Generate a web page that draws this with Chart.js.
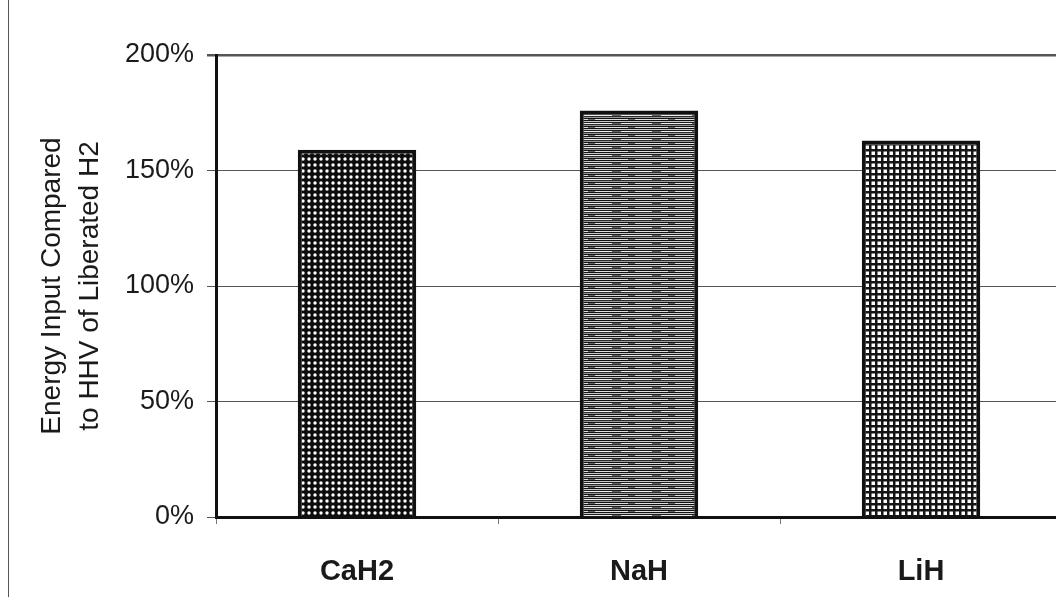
<!DOCTYPE html>
<html>
<head>
<meta charset="utf-8">
<script src="https://cdn.jsdelivr.net/npm/chart.js@4.4.0/dist/chart.umd.min.js"></script>
<style>
  html, body { margin: 0; padding: 0; background: #fff; overflow: hidden; }
  #wrap { position: relative; width: 1056px; height: 597px; overflow: hidden; }
  #edge { position: absolute; left: 8px; top: 0; width: 0; height: 597px; border-left: 1.5px solid #555; }
  canvas { position: absolute; left: 0; top: 0; }
</style>
</head>
<body>
<div id="wrap">
  <canvas id="energyChart" width="1080" height="597"></canvas>
  <div id="edge"></div>
</div>
<script>
// ── Data ─────────────────────────────────────────────────────────────────────
const hydrides    = ['CaH2', 'NaH', 'LiH'];
const energyInput = [159, 176, 163];          // % of HHV of liberated H2
const yTicks      = [0, 50, 100, 150, 200];
const yTitle      = ['Energy Input Compared', 'to HHV of Liberated H2'];

// ── Fill patterns (dots / stripes / checks) ──────────────────────────────────
function makePattern(w, h, paint) {
  const c = document.createElement('canvas');
  c.width = w; c.height = h;
  const g = c.getContext('2d');
  paint(g, w, h);
  return document.getElementById('energyChart').getContext('2d').createPattern(c, 'repeat');
}

const dotPattern = makePattern(6, 6, (g) => {
  g.fillStyle = '#0d0d0d'; g.fillRect(0, 0, 6, 6);
  g.fillStyle = '#fff';
  g.beginPath(); g.arc(3, 3, 1.7, 0, Math.PI * 2); g.fill();
});

const stripePattern = makePattern(40, 8, (g) => {
  const rows = ['#111', '#c8c8c8', '#1c1c1c', '#eeeeee', '#2a2a2a', '#9a9a9a', '#111', '#e0e0e0'];
  rows.forEach((col, i) => { g.fillStyle = col; g.fillRect(0, i, 40, 1); });
  g.fillStyle = '#666'; g.fillRect(12, 3, 9, 1); g.fillRect(28, 7, 7, 1);
});

const checkPattern = makePattern(6, 6, (g) => {
  g.fillStyle = '#151515'; g.fillRect(0, 0, 6, 6);
  g.fillStyle = '#fff'; g.fillRect(1.5, 1.5, 3.5, 3.5);
});

// ── Chart ────────────────────────────────────────────────────────────────────
const ctx = document.getElementById('energyChart').getContext('2d');
new Chart(ctx, {
  type: 'bar',
  data: {
    labels: hydrides,
    datasets: [{
      data: energyInput,
      backgroundColor: [dotPattern, stripePattern, checkPattern],
      borderColor: '#111',
      borderWidth: 4,
      barPercentage: 0.42,
      categoryPercentage: 1.0
    }]
  },
  options: {
    responsive: false,
    animation: false,
    devicePixelRatio: 1,
    layout: { padding: { top: 55, right: 18, left: 0, bottom: 0 } },
    plugins: { legend: { display: false }, tooltip: { enabled: false } },
    scales: {
      x: {
        afterFit: (s) => { s.height = 80; },
        grid: { drawOnChartArea: false, drawTicks: true, tickLength: 7, color: '#777', offset: true },
        border: { color: '#111', width: 3 },
        ticks: { color: '#1a1a1a', padding: 31, font: { family: 'Liberation Sans, Arial', size: 29, weight: 'bold' } }
      },
      y: {
        min: 0,
        max: 200,
        afterFit: (s) => { s.width = 216; },
        afterBuildTicks: (s) => { s.ticks = yTicks.map(v => ({ value: v })); },
        grid: {
          color: '#555',
          lineWidth: (c) => (c.tick && c.tick.value === 200 ? 2.5 : 1),
          tickLength: 9
        },
        border: { color: '#111', width: 3 },
        ticks: {
          color: '#1a1a1a',
          padding: 13,
          font: { family: 'Liberation Sans, Arial', size: 27 },
          callback: (v) => v + '%'
        },
        title: {
          display: true,
          text: yTitle,
          color: '#1a1a1a',
          padding: { top: 33, bottom: 0 },
          font: { family: 'Liberation Sans, Arial', size: 28, lineHeight: 1.36 }
        }
      }
    }
  }
});
</script>
</body>
</html>
